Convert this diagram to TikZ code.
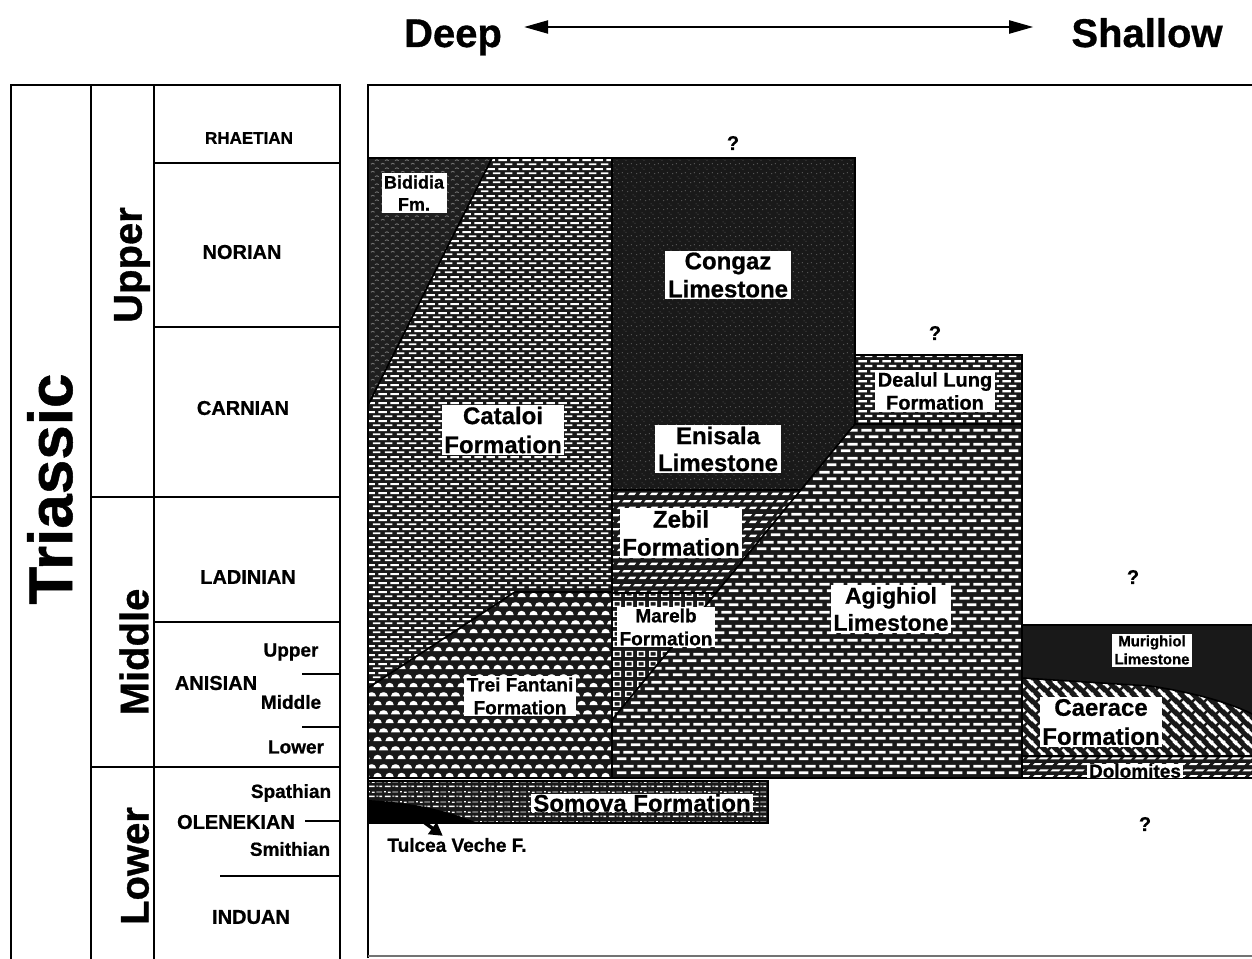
\documentclass[tikz,border=0pt]{standalone}
\usepackage{fontspec}
\setmainfont{Liberation Sans}[BoldFeatures={FakeBold=0.8}]
\usetikzlibrary{patterns,arrows.meta}
\newcommand{\fsz}[2]{\fontsize{#1}{#2}\selectfont}
\definecolor{dk}{gray}{0.1}
% horizontal dashes (Cataloi)
\pgfdeclarepatternformonly{catdash}{\pgfpointorigin}{\pgfpoint{12pt}{9pt}}{\pgfpoint{12pt}{9pt}}{%
  \pgfpathrectangle{\pgfpoint{1pt}{1pt}}{\pgfpoint{8pt}{2pt}}%
  \pgfpathrectangle{\pgfpoint{7pt}{5.5pt}}{\pgfpoint{8pt}{2pt}}%
  \pgfpathrectangle{\pgfpoint{-5pt}{5.5pt}}{\pgfpoint{8pt}{2pt}}%
  \pgfusepath{fill}}
% bricks (Agighiol)
\pgfdeclarepatternformonly{brk}{\pgfpointorigin}{\pgfpoint{14pt}{14pt}}{\pgfpoint{14pt}{14pt}}{%
  \pgfpathrectangle{\pgfpoint{1pt}{2pt}}{\pgfpoint{10pt}{3pt}}%
  \pgfpathrectangle{\pgfpoint{8pt}{9pt}}{\pgfpoint{10pt}{3pt}}%
  \pgfpathrectangle{\pgfpoint{-6pt}{9pt}}{\pgfpoint{10pt}{3pt}}%
  \pgfusepath{fill}}
% small bricks (Dealul Lung)
\pgfdeclarepatternformonly{brks}{\pgfpointorigin}{\pgfpoint{12pt}{10pt}}{\pgfpoint{12pt}{10pt}}{%
  \pgfpathrectangle{\pgfpoint{1pt}{1pt}}{\pgfpoint{8pt}{2.5pt}}%
  \pgfpathrectangle{\pgfpoint{7pt}{6pt}}{\pgfpoint{8pt}{2.5pt}}%
  \pgfpathrectangle{\pgfpoint{-5pt}{6pt}}{\pgfpoint{8pt}{2.5pt}}%
  \pgfusepath{fill}}
% domes (Trei Fantani)
\pgfdeclarepatternformonly{dome}{\pgfpointorigin}{\pgfpoint{12pt}{18pt}}{\pgfpoint{12pt}{18pt}}{%
  \pgfpathmoveto{\pgfpoint{1.5pt}{1pt}}\pgfpatharc{180}{0}{4.5pt and 4.5pt}\pgfpathclose
  \pgfpathmoveto{\pgfpoint{-4.5pt}{10pt}}\pgfpatharc{180}{0}{4.5pt and 4.5pt}\pgfpathclose
  \pgfpathmoveto{\pgfpoint{7.5pt}{10pt}}\pgfpatharc{180}{0}{4.5pt and 4.5pt}\pgfpathclose
  \pgfusepath{fill}}
% slanted dashes (Zebil)
\pgfdeclarepatternformonly{slant}{\pgfpointorigin}{\pgfpoint{11pt}{14pt}}{\pgfpoint{11pt}{14pt}}{%
  \pgfpathmoveto{\pgfpoint{1pt}{1pt}}\pgfpathlineto{\pgfpoint{8pt}{1pt}}\pgfpathlineto{\pgfpoint{10pt}{3.5pt}}\pgfpathlineto{\pgfpoint{3pt}{3.5pt}}\pgfpathclose
  \pgfpathmoveto{\pgfpoint{6.5pt}{8pt}}\pgfpathlineto{\pgfpoint{13.5pt}{8pt}}\pgfpathlineto{\pgfpoint{15.5pt}{10.5pt}}\pgfpathlineto{\pgfpoint{8.5pt}{10.5pt}}\pgfpathclose
  \pgfpathmoveto{\pgfpoint{-4.5pt}{8pt}}\pgfpathlineto{\pgfpoint{2.5pt}{8pt}}\pgfpathlineto{\pgfpoint{4.5pt}{10.5pt}}\pgfpathlineto{\pgfpoint{-2.5pt}{10.5pt}}\pgfpathclose
  \pgfusepath{fill}}
% thin slanted dashes (Dolomites)
\pgfdeclarepatternformonly{dolo}{\pgfpointorigin}{\pgfpoint{12pt}{12pt}}{\pgfpoint{12pt}{12pt}}{%
  \pgfpathmoveto{\pgfpoint{1pt}{1pt}}\pgfpathlineto{\pgfpoint{9pt}{1pt}}\pgfpathlineto{\pgfpoint{11pt}{3pt}}\pgfpathlineto{\pgfpoint{3pt}{3pt}}\pgfpathclose
  \pgfpathmoveto{\pgfpoint{7pt}{7pt}}\pgfpathlineto{\pgfpoint{15pt}{7pt}}\pgfpathlineto{\pgfpoint{17pt}{9pt}}\pgfpathlineto{\pgfpoint{9pt}{9pt}}\pgfpathclose
  \pgfpathmoveto{\pgfpoint{-5pt}{7pt}}\pgfpathlineto{\pgfpoint{3pt}{7pt}}\pgfpathlineto{\pgfpoint{5pt}{9pt}}\pgfpathlineto{\pgfpoint{-3pt}{9pt}}\pgfpathclose
  \pgfusepath{fill}}
% diagonal bricks (Caerace)
\pgfdeclarepatternformonly{diagbrk}{\pgfpointorigin}{\pgfpoint{12pt}{12pt}}{\pgfpoint{12pt}{12pt}}{%
  \pgfsetlinewidth{3pt}%
  \pgfpathmoveto{\pgfpoint{-1pt}{13pt}}\pgfpathlineto{\pgfpoint{5pt}{7pt}}%
  \pgfpathmoveto{\pgfpoint{7pt}{5pt}}\pgfpathlineto{\pgfpoint{13pt}{-1pt}}%
  \pgfpathmoveto{\pgfpoint{10pt}{14pt}}\pgfpathlineto{\pgfpoint{14pt}{10pt}}%
  \pgfpathmoveto{\pgfpoint{-2pt}{2pt}}\pgfpathlineto{\pgfpoint{2pt}{-2pt}}%
  \pgfusepath{stroke}}
% small hollow squares (Marelb)
\pgfdeclarepatternformonly{sqr}{\pgfpointorigin}{\pgfpoint{12pt}{10pt}}{\pgfpoint{12pt}{10pt}}{%
  \pgfsetlinewidth{1.4pt}%
  \pgfpathrectangle{\pgfpoint{2pt}{2pt}}{\pgfpoint{7pt}{5pt}}%
  \pgfusepath{stroke}}
% mixed marks (Somova)
\pgfdeclarepatternformonly{somo}{\pgfpointorigin}{\pgfpoint{16pt}{10pt}}{\pgfpoint{16pt}{10pt}}{%
  \pgfpathrectangle{\pgfpoint{1pt}{1pt}}{\pgfpoint{6pt}{1.5pt}}%
  \pgfpathrectangle{\pgfpoint{9pt}{1.5pt}}{\pgfpoint{2pt}{1pt}}%
  \pgfpathrectangle{\pgfpoint{12pt}{1pt}}{\pgfpoint{3pt}{1.5pt}}%
  \pgfpathrectangle{\pgfpoint{4pt}{5.5pt}}{\pgfpoint{3pt}{1.5pt}}%
  \pgfpathrectangle{\pgfpoint{9pt}{6pt}}{\pgfpoint{6pt}{1pt}}%
  \pgfpathrectangle{\pgfpoint{0pt}{6pt}}{\pgfpoint{2pt}{1.5pt}}%
  \pgfusepath{fill}}
% speckles (Congaz)
\pgfdeclarepatternformonly{spk}{\pgfpointorigin}{\pgfpoint{9pt}{9pt}}{\pgfpoint{9pt}{9pt}}{%
  \pgfpathrectangle{\pgfpoint{1pt}{2pt}}{\pgfpoint{1pt}{1pt}}%
  \pgfpathrectangle{\pgfpoint{5pt}{6pt}}{\pgfpoint{1pt}{0.8pt}}%
  \pgfpathrectangle{\pgfpoint{7pt}{1pt}}{\pgfpoint{0.8pt}{1pt}}%
  \pgfpathrectangle{\pgfpoint{3pt}{7.5pt}}{\pgfpoint{1pt}{0.8pt}}%
  \pgfusepath{fill}}
% squiggles (Bididia)
\pgfdeclarepatternformonly{wig}{\pgfpointorigin}{\pgfpoint{10pt}{8pt}}{\pgfpoint{10pt}{8pt}}{%
  \pgfsetlinewidth{0.9pt}%
  \pgfpathmoveto{\pgfpoint{1pt}{2pt}}\pgfpathlineto{\pgfpoint{3pt}{3pt}}\pgfpathlineto{\pgfpoint{5pt}{2pt}}%
  \pgfpathmoveto{\pgfpoint{5.5pt}{6pt}}\pgfpathlineto{\pgfpoint{7.5pt}{7pt}}\pgfpathlineto{\pgfpoint{9.5pt}{6pt}}%
  \pgfusepath{stroke}}
\begin{document}
\begin{tikzpicture}[x=1pt,y=-1pt,
  tbl/.style={line width=2.4pt},
  tblthin/.style={line width=1.6pt},
  ulbl/.style 2 args={fill=white, inner xsep=2.5pt, inner ysep=2pt, align=center, font=\bfseries\fsz{#1}{#2}},
  stxt/.style={inner sep=0pt, font=\bfseries\fsz{#1}{#1}},
  geounit/.style={preaction={fill=dk}, pattern=#1, pattern color=white, draw=black, line width=1.6pt},
]
\useasboundingbox (0,0) rectangle (1252,958);
\fill[white] (0,0) rectangle (1252,958);
\begin{scope}
\clip (0,0) rectangle (1252,958);
% ---- units ----
\path[geounit=catdash] (492,158) -- (612,158) -- (612,592) -- (515,592) -- (368,688) -- (368,405) -- cycle;
\path[preaction={fill=black!88}, pattern=wig, pattern color=black!55, draw=black, line width=1.6pt] (368,158) -- (492,158) -- (368,405) -- cycle;
\path[geounit=dome] (368,688) -- (515,592) -- (612,592) -- (612,778) -- (368,778) -- cycle;
\path[preaction={fill=dk}, pattern=spk, pattern color=black!55, draw=black, line width=1.6pt] (612,158) -- (855,158) -- (855,424) -- (801,490) -- (612,490) -- cycle;
\path[geounit=slant] (612,490) -- (801,490) -- (716,593) -- (612,593) -- cycle;
\path[geounit=sqr] (612,593) -- (716,593) -- (612,720) -- cycle;
\path[geounit=brk] (855,424) -- (1022,424) -- (1022,778) -- (612,778) -- (612,720) -- cycle;
\path[geounit=brks] (855,355) rectangle (1022,424);
\path[fill=dk, draw=black, line width=1.6pt] (1022,625) rectangle (1256,756);
\path[geounit=diagbrk] (1022,678) -- (1150,686) .. controls (1190,692) and (1230,702) .. (1256,716) -- (1256,756) -- (1022,756) -- cycle;
\path[geounit=dolo] (1022,756) rectangle (1256,778);
\path[geounit=somo] (368,781) rectangle (768,823);
\fill[black] (368,800) .. controls (420,803) and (450,812) .. (478,823) -- (368,823) -- cycle;
% ---- frames ----
\draw[line width=2.8pt] (368,958) -- (368,85) -- (1256,85);
\draw[line width=2pt, black!55] (368,956) -- (1252,956);
\draw[tbl] (11,960) -- (11,85) -- (340,85) -- (340,960);
\draw[tbl] (91,85) -- (91,960);
\draw[tbl] (154,85) -- (154,960);
\draw[tblthin] (154,163) -- (340,163);
\draw[tblthin] (154,327) -- (340,327);
\draw[tbl] (91,497) -- (340,497);
\draw[tblthin] (154,622) -- (340,622);
\draw[tbl] (91,767) -- (340,767);
\draw[tblthin] (302,674) -- (340,674);
\draw[tblthin] (302,727) -- (340,727);
\draw[tblthin] (305,821) -- (340,821);
\draw[tblthin] (220,876) -- (340,876);
\end{scope}
% ---- header ----
\node[stxt=40, anchor=base] (deep) at (453,47) {Deep};
\node[stxt=40, anchor=base] (shallow) at (1147,47) {Shallow};
\draw[line width=2pt, {Triangle[length=24pt,width=13pt]}-{Triangle[length=24pt,width=13pt]}]
  ([xshift=22pt,yshift=20pt]deep.base east) -- ([xshift=-38pt,yshift=20pt]shallow.base west);
% ---- time scale ----
\node[stxt=62, rotate=90] (triassic) at (50,489) {Triassic};
\node[stxt=40, rotate=90] (upper) at (132,265) {Upper};
\node[stxt=40, rotate=90] (middle) at (134,652) {Middle};
\node[stxt=40, rotate=90] (lower) at (135,866) {Lower};
\node[stxt=17] (rhaetian) at (249,138) {RHAETIAN};
\node[stxt=20] (norian) at (242,252) {NORIAN};
\node[stxt=20] (carnian) at (243,408) {CARNIAN};
\node[stxt=20] (ladinian) at (248,577) {LADINIAN};
\node[stxt=20] (anisian) at (216,683) {ANISIAN};
\node[stxt=19] (anup) at (291,652) {Upper};
\node[stxt=19] (anmid) at (291,702) {Middle};
\node[stxt=19] (anlow) at (296,747) {Lower};
\node[stxt=19] (spathian) at (291,793) {Spathian};
\node[stxt=20] (olenekian) at (236,822) {OLENEKIAN};
\node[stxt=19] (smithian) at (290,849) {Smithian};
\node[stxt=20] (induan) at (251,917) {INDUAN};
% ---- question marks ----
\node[stxt=20] (q1) at (733,143) {?};
\node[stxt=20] (q2) at (935,333) {?};
\node[stxt=20] (q3) at (1133,577) {?};
\node[stxt=20] (q4) at (1145,824) {?};
% ---- unit labels ----
\node[ulbl={18}{22}] (bididia) at (414,193) {Bididia\\Fm.};
\node[ulbl={24}{29}] (cataloi) at (503,430) {Cataloi\\Formation};
\node[ulbl={24}{28}] (congaz) at (728,275) {Congaz\\Limestone};
\node[ulbl={24}{27}] (enisala) at (718,449) {Enisala\\Limestone};
\node[ulbl={24}{28}] (zebil) at (681,533) {Zebil\\Formation};
\node[ulbl={19}{23}] (marelb) at (666,627) {Marelb\\Formation};
\node[ulbl={19}{23}] (trei) at (520,696) {Trei Fantani\\Formation};
\node[ulbl={24}{28}, inner ysep=0.5pt] (somova) at (642,803) {Somova Formation};
\node[ulbl={20}{23}] (dealul) at (935,391) {Dealul Lung\\Formation};
\node[ulbl={23}{27}] (agighiol) at (891,609) {Agighiol\\Limestone};
\node[ulbl={15}{18}] (murighiol) at (1152,650) {Murighiol\\Limestone};
\node[ulbl={24}{29}] (caerace) at (1101,722) {Caerace\\Formation};
\node[ulbl={19}{20}, inner ysep=0pt] (dolomites) at (1135,771) {Dolomites};
\node[ulbl={19}{22}, fill=none] (tulcea) at (457,845) {Tulcea Veche F.};
\coordinate (tvlens) at (410,812);
\draw[line width=3.5pt, -{Triangle[length=13pt,width=14pt]}] (tvlens) -- ([xshift=58pt]tulcea.north west);
\end{tikzpicture}
\end{document}
